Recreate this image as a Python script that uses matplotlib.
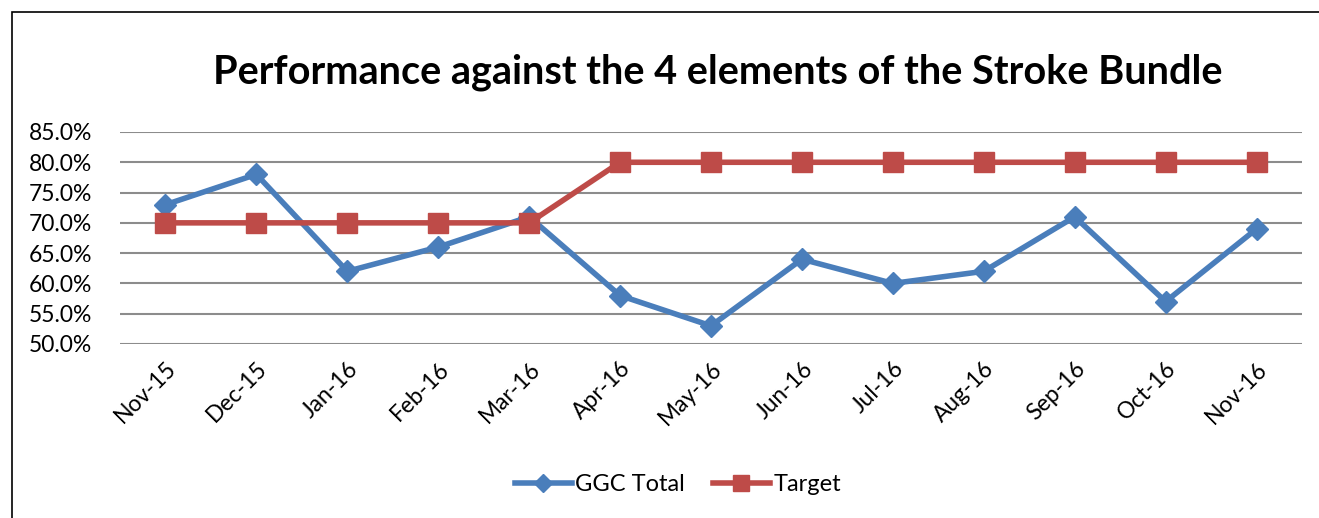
import matplotlib.pyplot as plt
from matplotlib.patches import Rectangle
from matplotlib.ticker import PercentFormatter

# Data
months = ["Nov-15", "Dec-15", "Jan-16", "Feb-16", "Mar-16", "Apr-16", "May-16",
          "Jun-16", "Jul-16", "Aug-16", "Sep-16", "Oct-16", "Nov-16"]
ggcTotal = [73, 78, 62, 66, 71, 58, 53, 64, 60, 62, 71, 57, 69]
target = [70, 70, 70, 70, 70, 80, 80, 80, 80, 80, 80, 80, 80]

plt.rcParams['font.family'] = ['Lato', 'DejaVu Sans']

fig = plt.figure(figsize=(13.19, 5.18), dpi=100)
ax = fig.add_axes([120 / 1319, 1 - 344 / 518, (1302 - 120) / 1319, (344 - 132) / 518])

x = list(range(len(months)))
ax.plot(x, ggcTotal, color="#4a7ebb", linewidth=4, marker="D", markersize=11,
        label="GGC Total", zorder=3)
ax.plot(x, target, color="#be4b48", linewidth=4, marker="s", markersize=14,
        label="Target", zorder=3)

ax.set_xlim(-0.5, len(months) - 0.5)
ax.set_ylim(50, 85)
ax.set_yticks(range(50, 86, 5))
ax.yaxis.set_major_formatter(PercentFormatter(decimals=1))
ax.grid(axis="y", color="#8c8c8c", linewidth=1.5)
ax.set_axisbelow(True)
for s in ax.spines.values():
    s.set_visible(False)
ax.tick_params(axis="both", length=0, labelsize=16.5)
ax.tick_params(axis="y", pad=20)
ax.set_xticks(x)
ax.set_xticklabels(months, rotation=45, ha="right", rotation_mode="anchor")
ax.tick_params(axis="x", pad=10)

fig.text(0.544, 1 - 72 / 518, "Performance against the 4 elements of the Stroke Bundle",
         ha="center", va="center", fontsize=28.5, fontweight="bold")

ax.legend(loc="center", bbox_to_anchor=(0.472, -0.665), ncol=2, frameon=False,
          fontsize=17, handlelength=2.4, columnspacing=1.2, handletextpad=0.15,
          markerscale=0.8)

# chart border (only top and left edges visible in the crop)
fig.add_artist(Rectangle((12 / 1319, -0.1), 1.2, 1 - 12 / 518 + 0.1,
                         transform=fig.transFigure, fill=False,
                         edgecolor="black", linewidth=1.2))

fig.savefig("out.png", dpi=100)
